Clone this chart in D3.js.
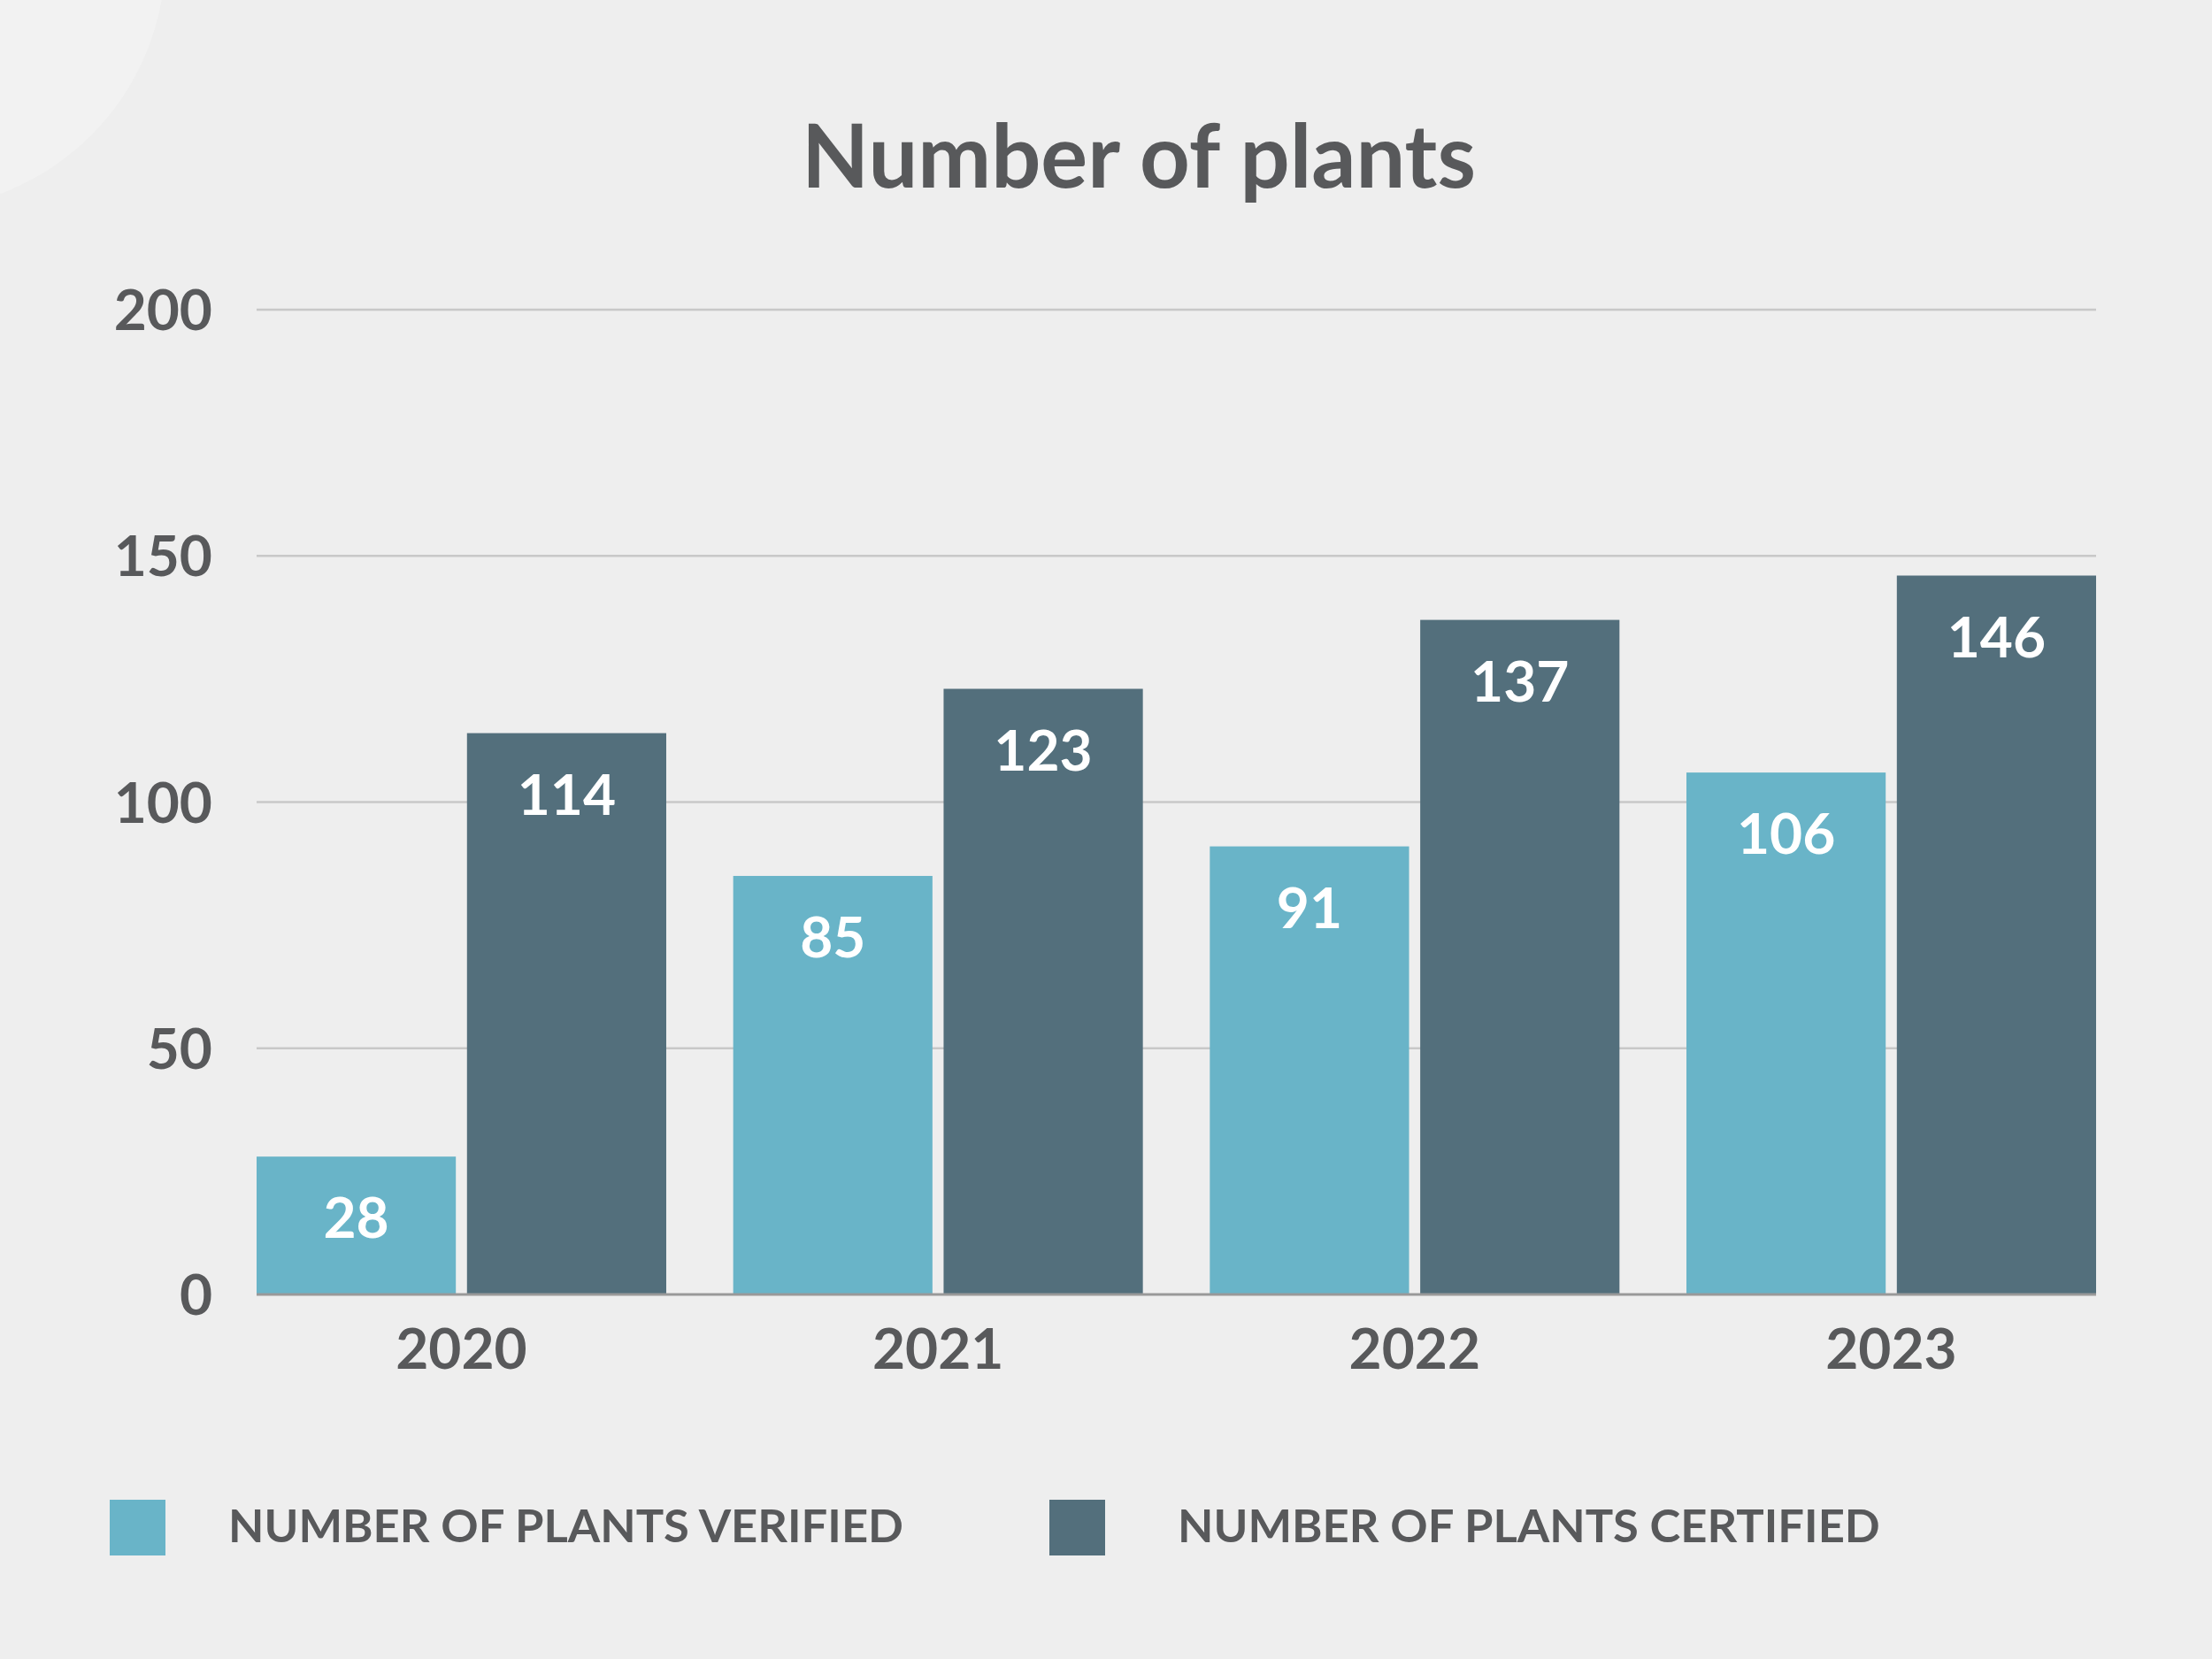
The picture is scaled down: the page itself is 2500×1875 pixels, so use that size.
<!DOCTYPE html>
<html>
<head>
<meta charset="utf-8">
<script src="https://cdn.jsdelivr.net/npm/d3@7/dist/d3.min.js"></script>
<style>
  html, body { margin: 0; padding: 0; background: #eeeeee; }
  svg { display: block; }
  text { font-family: Lato, "Open Sans", sans-serif; font-weight: 700; }
</style>
</head>
<body>
<script>
const title = "Number of plants";
const years = ["2020", "2021", "2022", "2023"];
const seriesNames = ["NUMBER OF PLANTS VERIFIED", "NUMBER OF PLANTS CERTIFIED"];
const verified = [28, 85, 91, 106];
const certified = [114, 123, 137, 146];
const yTicks = [0, 50, 100, 150, 200];
const colors = ["#69b4c8", "#536f7c"];

const W = 2500, H = 1875;
const textColor = "#58595b";

const svg = d3.select("body").append("svg")
  .attr("width", W).attr("height", H);

svg.append("rect").attr("width", W).attr("height", H).attr("fill", "#eeeeee");
svg.append("circle").attr("cx", -100).attr("cy", -50).attr("r", 287).attr("fill", "#f2f2f2");

const x0 = d3.scaleBand().domain(years).range([290, 2369]).paddingInner(0.1405).paddingOuter(0);
const x1 = d3.scaleBand().domain([0, 1]).range([0, x0.bandwidth()]).paddingInner(0.053).paddingOuter(0);
const y = d3.scaleLinear().domain([0, 200]).range([1463, 350]);

// title
svg.append("text").attr("x", 1287).attr("y", 212)
  .attr("text-anchor", "middle").attr("font-size", 99).attr("fill", textColor)
  .text(title);

// gridlines
svg.append("g").selectAll("line").data(yTicks.filter(d => d > 0)).join("line")
  .attr("x1", 290).attr("x2", 2369)
  .attr("y1", d => y(d)).attr("y2", d => y(d))
  .attr("stroke", "#c8c8c8").attr("stroke-width", 2.5);

// y tick labels
svg.append("g").selectAll("text").data(yTicks).join("text")
  .attr("x", 240).attr("y", d => y(d))
  .attr("dy", "0.36em")
  .attr("text-anchor", "end").attr("font-size", 64).attr("fill", textColor)
  .text(d => d);

const data = years.map((yr, i) => ({ year: yr, values: [verified[i], certified[i]] }));

const groups = svg.append("g").selectAll("g").data(data).join("g")
  .attr("transform", d => `translate(${x0(d.year)},0)`);

groups.selectAll("rect").data(d => d.values.map((v, k) => ({ v, k }))).join("rect")
  .attr("x", d => x1(d.k)).attr("width", x1.bandwidth())
  .attr("y", d => y(d.v)).attr("height", d => y(0) - y(d.v))
  .attr("fill", d => colors[d.k]);

groups.selectAll("text.val").data(d => d.values.map((v, k) => ({ v, k }))).join("text")
  .attr("class", "val")
  .attr("x", d => x1(d.k) + x1.bandwidth() / 2)
  .attr("y", d => y(d.v) + 92)
  .attr("text-anchor", "middle").attr("font-size", 64).attr("fill", "#ffffff")
  .text(d => d.v);

// baseline axis
svg.append("line").attr("x1", 290).attr("x2", 2369)
  .attr("y1", y(0)).attr("y2", y(0))
  .attr("stroke", "#999999").attr("stroke-width", 3);

// x labels
svg.append("g").selectAll("text").data(years).join("text")
  .attr("x", d => x0(d) + x0.bandwidth() / 2).attr("y", 1547)
  .attr("text-anchor", "middle").attr("font-size", 64).attr("fill", textColor)
  .text(d => d);

// legend
const legendX = [124, 1186];
const legendTextX = [258, 1331];
const lg = svg.append("g").selectAll("g").data(seriesNames).join("g");
lg.append("rect")
  .attr("x", (d, i) => legendX[i]).attr("y", 1695)
  .attr("width", 63).attr("height", 63)
  .attr("fill", (d, i) => colors[i]);
lg.append("text")
  .attr("x", (d, i) => legendTextX[i]).attr("y", 1743)
  .attr("font-size", 52.5).attr("fill", textColor)
  .text(d => d);
</script>
</body>
</html>
